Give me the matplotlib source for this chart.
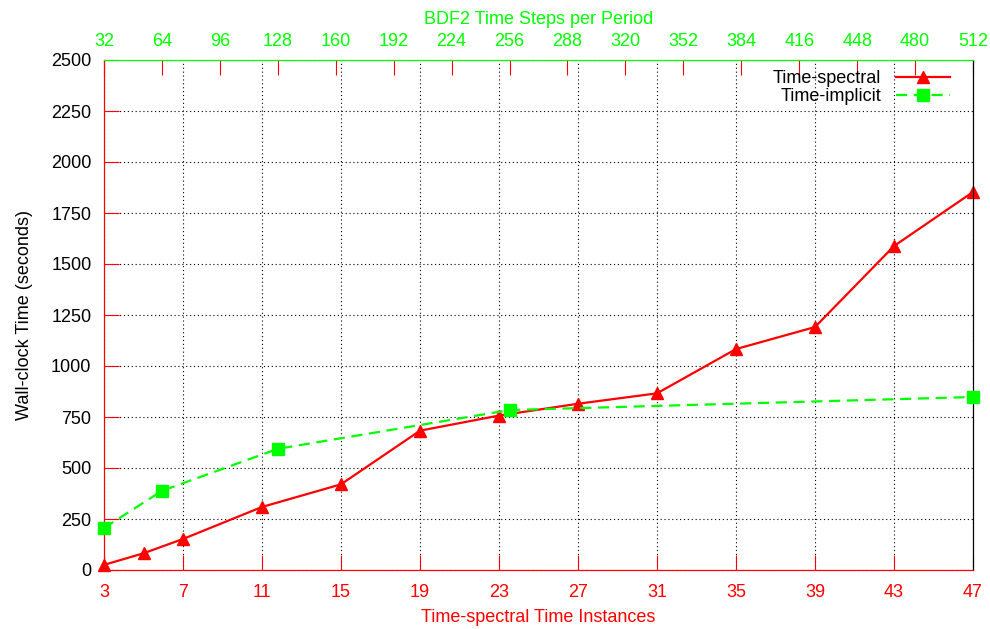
import matplotlib
matplotlib.use("Agg")
import matplotlib.pyplot as plt

plt.rcParams['font.family'] = ['Liberation Sans', 'DejaVu Sans']

# Time-spectral (bottom axis: time instances)
ts_n = [3, 5, 7, 11, 15, 19, 23, 27, 31, 35, 39, 43, 47]
ts_time = [25, 82, 152, 309, 420, 683, 757, 815, 866, 1083, 1191, 1588, 1853]

# Time-implicit BDF2 (top axis: time steps per period)
bdf_steps = [32, 64, 128, 256, 512]
bdf_time = [206, 388, 594, 784, 848]

bottom_ticks = list(range(3, 48, 4))
top_ticks = list(range(32, 513, 32))
y_ticks = list(range(0, 2501, 250))

red = '#ff0000'
green = '#00ff00'
fs = 13

fig = plt.figure(figsize=(9.9, 6.29), dpi=100)
ax = fig.add_axes([104/990, 59/629, 869/990, 510/629])
ax2 = ax.twiny()

l1, = ax.plot(ts_n, ts_time, color=red, lw=1.6, marker='^', ms=9, label='Time-spectral',
              zorder=4, clip_on=False)
l2, = ax2.plot(bdf_steps, bdf_time, color=green, lw=1.6, ls=(0, (5, 3)), marker='s', ms=9,
               label='Time-implicit', zorder=3, clip_on=False)

ax.set_xlim(3, 47)
ax.set_ylim(0, 2500)
ax2.set_xlim(32, 512)

ax.set_xticks(bottom_ticks)
ax.set_yticks(y_ticks)
ax2.set_xticks(top_ticks)

ax.grid(True, color='black', ls=(0, (1, 2.5)), lw=0.8)

ax.tick_params(axis='x', direction='in', length=11, color=red, labelcolor=red, labelsize=fs, pad=10)
ax.tick_params(axis='y', direction='in', length=11, color=red, labelcolor='black', labelsize=fs, pad=9)
ax2.tick_params(axis='x', direction='in', length=11, color=red, labelcolor=green, labelsize=fs, pad=7)

ax.set_xlabel('Time-spectral Time Instances', color=red, fontsize=fs, labelpad=6)
ax.set_ylabel('Wall-clock Time (seconds)', color='black', fontsize=fs, labelpad=13)
ax2.set_xlabel('BDF2 Time Steps per Period', color=green, fontsize=fs, labelpad=7)

for a in (ax, ax2):
    a.spines['bottom'].set_color(red)
    a.spines['left'].set_color(red)
    a.spines['top'].set_color(green)
    a.spines['right'].set_color('black')

leg = ax2.legend([l1, l2], ['Time-spectral', 'Time-implicit'], loc='upper right',
                 bbox_to_anchor=(0.9735, 0.98), frameon=False, markerfirst=False,
                 fontsize=fs, handlelength=3.0, borderaxespad=0, borderpad=0,
                 labelspacing=0.05, handletextpad=0.8)

fig.savefig('out.png', dpi=100)
